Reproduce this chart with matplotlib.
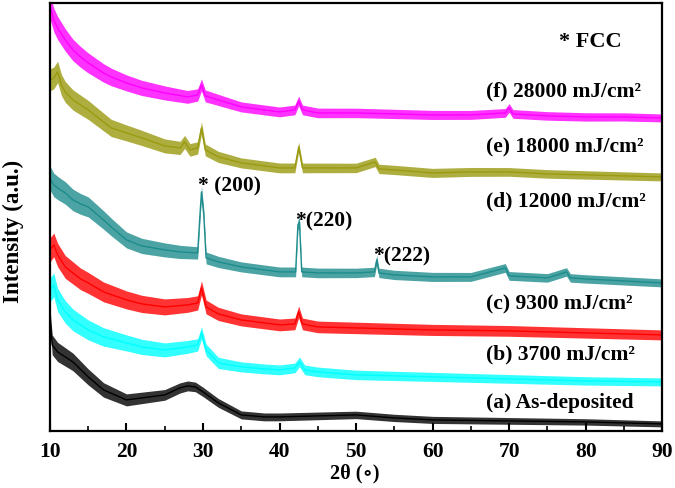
import numpy as np
import matplotlib
matplotlib.use("Agg")
import matplotlib.pyplot as plt

# XRD patterns, values (arbitrary intensity units, offset stacks)
x_f = [10, 10.5, 11, 12, 13, 14, 15, 17, 18, 20, 22, 25, 28, 29.3, 29.8, 30.3, 32, 35, 38, 40,
       42, 42.5, 43, 45, 50, 55, 60, 65, 69.5, 70, 70.5, 75, 80, 85, 90]
y_f = [424, 411, 403, 391, 381, 374, 368, 358, 354, 348, 343, 338, 334, 336, 346, 335, 331, 324, 321, 319,
       321, 330, 321, 318, 318, 317, 316, 316, 318, 323, 317, 315, 314, 314, 313]

x_e = [10, 10.5, 11, 11.5, 12, 13, 14, 15, 17, 18, 20, 22, 25, 27, 27.6, 28.3, 29.3, 29.8, 30.3, 32,
       35, 38, 40, 42, 42.5, 43, 45, 50, 52.5, 53, 55, 60, 65, 70, 75, 80, 85, 90]
y_e = [351, 353, 359, 346, 339, 331, 326, 321, 309, 303, 298, 293, 285, 283, 289, 281, 283, 303, 281, 274,
       268, 265, 263, 263, 284, 263, 263, 263, 269, 262, 261, 258, 259, 259, 257, 256, 255, 254]

x_d = [10, 10.5, 11, 12, 13, 14, 15, 17, 18, 20, 22, 25, 27, 29.3, 29.6, 29.8, 30.1, 30.4, 32, 35,
       38, 40, 42.1, 42.4, 42.6, 42.9, 45, 50, 52.4, 52.7, 53, 55, 60, 65, 69.5, 70, 75, 77.5, 78, 80,
       85, 90]
y_d = [253, 246, 243, 238, 231, 227, 224, 211, 204, 191, 185, 181, 179, 178, 216, 239, 216, 173, 169, 164,
       161, 159, 159, 206, 209, 159, 158, 158, 159, 171, 158, 156, 154, 154, 163, 155, 153, 159, 153, 152,
       150, 148]

x_c = [10, 10.5, 11, 12, 13, 14, 15, 17, 20, 22, 25, 28, 29.3, 29.8, 30.4, 32, 35, 38, 40, 42,
       42.5, 43, 45, 50, 55, 60, 70, 80, 90]
y_c = [181, 186, 176, 164, 158, 152, 148, 139, 131, 127, 124, 126, 128, 143, 124, 117, 111, 108, 106, 107,
       119, 107, 104, 103, 102, 101, 100, 98, 96]

x_b = [10, 10.5, 11, 12, 13, 15, 17, 20, 22, 25, 28, 29.3, 29.8, 30.4, 32, 35, 38, 40, 42, 42.6,
       43.3, 45, 50, 55, 60, 70, 80, 90]
y_b = [141, 146, 131, 119, 111, 101, 94, 88, 84, 81, 84, 86, 98, 81, 68, 64, 62, 61, 63, 69,
       61, 59, 56, 55, 54, 52, 50, 49]

x_a = [10, 10.3, 11, 12, 13, 15, 17, 20, 22, 25, 27, 28, 29, 30, 32, 35, 38, 40, 45, 50,
       55, 60, 70, 80, 90]
y_a = [113, 86, 79, 74, 69, 54, 41, 31, 33, 36, 43, 45, 44, 39, 28, 16, 14, 14, 15, 16,
       13, 11, 10, 9, 7]

# half-width of the noise band, read at a few angles
noise_x = [10, 20, 35, 90]
noise_f = [12, 8, 5, 4]
noise_e = [11, 8, 5, 4]
noise_d = [12, 8, 5, 4]
noise_c = [12, 9, 6, 5]
noise_b = [12, 8, 5, 4]
noise_a = [10, 6, 4, 3]

colors = ['black', '#00FFFF', '#FF0000', '#1E8C8C', '#9A9A10', '#FF00FF']
labels = ['(a) As-deposited', '(b) 3700 mJ/cm\u00b2', '(c) 9300 mJ/cm\u00b2',
          '(d) 12000 mJ/cm\u00b2', '(e) 18000 mJ/cm\u00b2', '(f) 28000 mJ/cm\u00b2']
label_y = [28, 76, 126, 229, 283, 339]

series = [(x_a, y_a, noise_a), (x_b, y_b, noise_b), (x_c, y_c, noise_c),
          (x_d, y_d, noise_d), (x_e, y_e, noise_e), (x_f, y_f, noise_f)]

plt.rcParams['font.family'] = ['Liberation Serif', 'DejaVu Serif']
plt.rcParams['font.weight'] = 'bold'

fig = plt.figure(figsize=(6.75, 4.88), dpi=100)
ax = fig.add_axes([0.074, 0.117, 0.907, 0.877])

for (xs, ys, nz), col in zip(series, colors):
    xs = np.array(xs, dtype=float)
    ys = np.array(ys, dtype=float)
    hw = np.interp(xs, noise_x, nz)
    ax.fill_between(xs, ys - hw, ys + hw, color=col, alpha=0.8, lw=0)
    ax.plot(xs, ys, color=col, lw=1.0)

for lab, ly in zip(labels, label_y):
    ax.text(67.0, ly, lab, fontsize=15.5, fontweight='bold', va='center', ha='left')

ax.text(76.5, 389, '* FCC', fontsize=16, fontweight='bold', va='center', ha='left')
ax.text(29.35, 244, '* (200)', fontsize=15.5, fontweight='bold', va='center', ha='left')
ax.text(42.0, 209, '*(220)', fontsize=15.5, fontweight='bold', va='center', ha='left')
ax.text(52.2, 174, '*(222)', fontsize=15.5, fontweight='bold', va='center', ha='left')

ax.set_xlim(10, 90)
ax.set_ylim(0, 428)
ax.set_xticks(range(10, 91, 10))
ax.set_xticks(range(15, 90, 10), minor=True)
ax.set_yticks([])
ax.tick_params(axis='x', which='major', direction='in', length=6, width=1.5,
               labelsize=15.5, pad=8)
ax.tick_params(axis='x', which='minor', direction='in', length=3.5, width=1.2)
for lbl in ax.get_xticklabels():
    lbl.set_fontweight('bold')
for sp in ax.spines.values():
    sp.set_linewidth(1.6)

fig.text(355 / 675, 1 - 473 / 488, '2\u03b8 (\u2218)', fontsize=14.5, fontweight='bold',
         ha='center', va='center')
fig.text(13 / 675, 1 - 231 / 488, 'Intensity (a.u.)', fontsize=16.5, fontweight='bold',
         rotation=90, ha='center', va='center')

fig.savefig('out.png', dpi=100)
